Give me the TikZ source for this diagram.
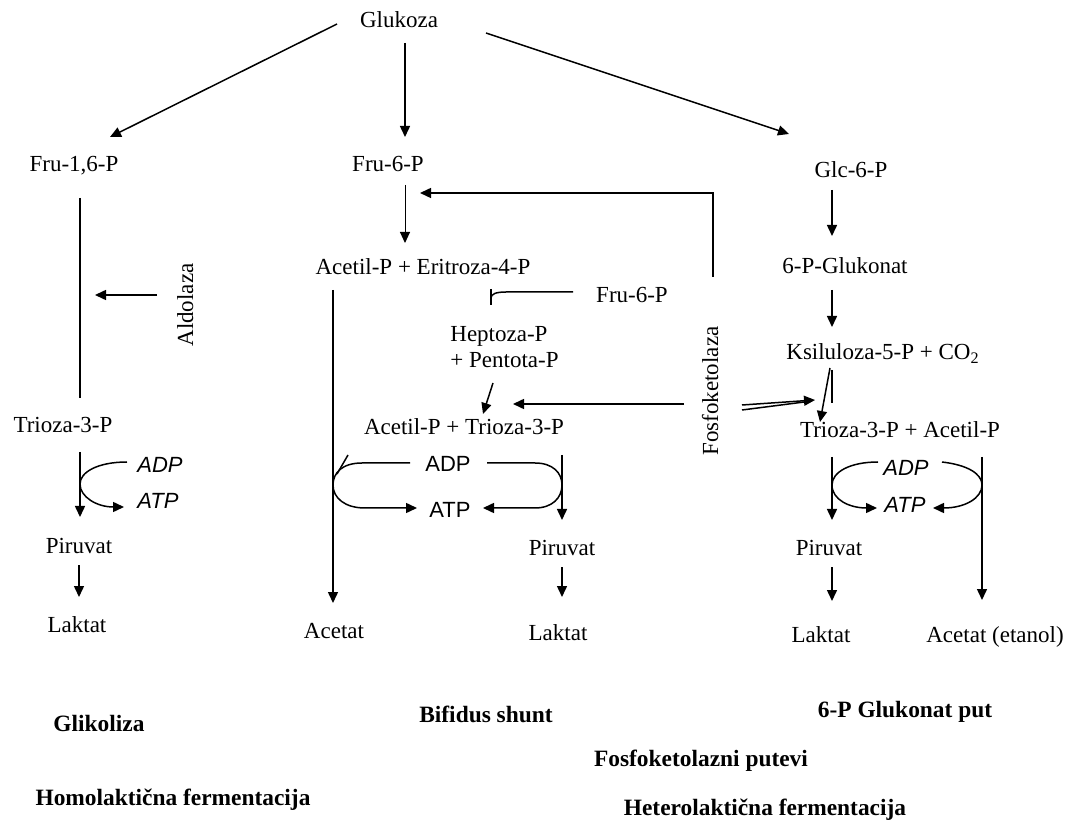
\documentclass[tikz,border=0pt]{standalone}
\usepackage{fontspec}
\setmainfont{Liberation Serif}
\newfontfamily\sansarial{Liberation Sans}
\usetikzlibrary{arrows.meta}
\begin{document}
\begin{tikzpicture}[x=0.5pt,y=-0.5pt,
  lbl/.style={inner sep=0pt,anchor=base,font=\fontsize{11.5}{13}\selectfont},
  ttl/.style={inner sep=0pt,anchor=base,font=\fontsize{11.7}{13}\selectfont\bfseries},
  enz/.style={inner sep=0pt,anchor=base,rotate=90,font=\fontsize{11.5}{13}\selectfont},
  nrg/.style={inner sep=0pt,anchor=base,font=\sansarial\fontsize{11}{13}\selectfont},
  nrgi/.style={inner sep=0pt,anchor=base,font=\sansarial\itshape\fontsize{11}{13}\selectfont},
  ln/.style={line width=0.75pt},
  thin ln/.style={line width=0.5pt},
  ar/.style={ln,-{Triangle[length=5.5pt,width=5pt]}},
]
\useasboundingbox (0,0) rectangle (1071,823);

% ---------- text nodes ----------
\node[lbl] (glu) at (399,28) {Glukoza};
\node[lbl] (f16) at (74,172) {Fru-1,6-P};
\node[lbl] (f6)  at (388,172) {Fru-6-P};
\node[lbl] (g6)  at (851,178) {Glc-6-P};
\node[lbl] (aer) at (423,275) {Acetil-P + Eritroza-4-P};
\node[lbl] (glk) at (845,274) {6-P-Glukonat};
\node[lbl] (f6b) at (632,303) {Fru-6-P};
\node[lbl,anchor=base west] (hep) at (450,342) {Heptoza-P};
\node[lbl,anchor=base west] (pen) at (450,368) {+ Pentota-P};
\node[lbl] (atr) at (464,435) {Acetil-P + Trioza-3-P};
\node[lbl] (ksi) at (883,360) {Ksiluloza-5-P + CO\textsubscript{2}};
\node[lbl] (tar) at (900,438) {Trioza-3-P + Acetil-P};
\node[lbl] (t3l) at (63,433) {Trioza-3-P};
\node[lbl] (pirl) at (79,553) {Piruvat};
\node[lbl] (lakl) at (77,632) {Laktat};
\node[lbl] (acm) at (334,638) {Acetat};
\node[lbl] (pirm) at (562,555) {Piruvat};
\node[lbl] (lakm) at (558,640) {Laktat};
\node[lbl] (pirr) at (829,555) {Piruvat};
\node[lbl] (lakr) at (821,642) {Laktat};
\node[lbl] (acr) at (995,642) {Acetat (etanol)};
\node[enz] (ald) at (193,305) {Aldolaza};
\node[enz] (fk) at (718,391) {Fosfoketolaza};

\node[nrgi] (adpl) at (160,473) {ADP};
\node[nrgi] (atpl) at (158,509) {ATP};
\node[nrg]  (adpm) at (448,472) {ADP};
\node[nrg]  (atpm) at (450,517) {ATP};
\node[nrgi] (adpr) at (906,475) {ADP};
\node[nrgi] (atpr) at (905,513) {ATP};

\node[ttl] (t1) at (99,731) {Glikoliza};
\node[ttl] (t2) at (486,722) {Bifidus shunt};
\node[ttl] (t3) at (905,717) {6-P Glukonat put};
\node[ttl] (t4) at (701,766) {Fosfoketolazni putevi};
\node[ttl] (t5) at (173,805) {Homolaktična fermentacija};
\node[ttl] (t6) at (765,815) {Heterolaktična fermentacija};

% ---------- connector end points ----------
\coordinate (g1) at (337,24);  \coordinate (g1e) at (110,137);
\coordinate (g2) at (405,43);  \coordinate (g2e) at (405,137);
\coordinate (g3) at (486,33);  \coordinate (g3e) at (789,134);
\coordinate (l1) at (80,198);  \coordinate (l1e) at (80,398);
\coordinate (al) at (157,295); \coordinate (ale) at (95,295);
\coordinate (l2) at (80,452);  \coordinate (l2e) at (80,517);
\coordinate (l3) at (79,565);  \coordinate (l3e) at (79,597);
\coordinate (m1) at (405,185); \coordinate (m1e) at (405,243);
\coordinate (bx) at (713,277); \coordinate (bxc) at (713,193); \coordinate (bxe) at (420,193);
\coordinate (m2) at (333,290); \coordinate (m2e) at (333,603);
\coordinate (br) at (573,292);
\coordinate (hp) at (493,383); \coordinate (hpe) at (483,414);
\coordinate (fl) at (684,404); \coordinate (fle) at (513,404);
\coordinate (m3) at (562,455); \coordinate (m3e) at (562,520);
\coordinate (m4) at (562,567); \coordinate (m4e) at (562,597);
\coordinate (r1) at (832,190); \coordinate (r1e) at (832,236);
\coordinate (r2) at (832,290); \coordinate (r2e) at (832,327);
\coordinate (r3) at (830,368); \coordinate (r3e) at (820,422);
\coordinate (r4) at (832,370); \coordinate (r4e) at (832,403);
\coordinate (fr) at (742,405); \coordinate (fre) at (815,400);
\coordinate (fr2) at (742,410); \coordinate (fr2e) at (812,401);
\coordinate (r5) at (832,457); \coordinate (r5e) at (832,520);
\coordinate (r6) at (982,457); \coordinate (r6e) at (982,600);
\coordinate (r7) at (832,567); \coordinate (r7e) at (832,601);

% ---------- connectors ----------
% from Glukoza
\draw[ar] (g1) -- (g1e);
\draw[ar] (g2) -- (g2e);
\draw[ar] (g3) -- (g3e);

% Glikoliza column
\draw[ln] (l1) -- (l1e);
\draw[ar] (al) -- (ale);
\draw[ar] (l2) -- (l2e);
\draw[ar] (127,462) .. controls (98,462) and (80,472) .. (80,484)
                  .. controls (80,497) and (97,507) .. (124,507);
\draw[ar] (l3) -- (l3e);

% Bifidus shunt
\draw[ar,line width=0.5pt] (m1) -- (m1e);
\draw[ar] (bx) -- (bxc) -- (bxe);
\draw[ar] (m2) -- (m2e);
\draw[ln] (br) -- (506,292) .. controls (496,292) and (491,294) .. (491,298);
\draw[ln] (491,289) -- (491,305);
\draw[ar] (hp) -- (hpe);
\draw[ar] (fl) -- (fle);
\draw[ar] (410,463) -- (362,463) .. controls (342,463) and (333,473) .. (333,485)
                   .. controls (333,498) and (345,508) .. (365,508) -- (417,508);
\draw[ln] (348,455) -- (337,474);
\draw[ar] (487,463) -- (535,463) .. controls (553,463) and (562,473) .. (562,485)
                   .. controls (562,498) and (552,508) .. (535,508) -- (483,508);
\draw[ar] (m3) -- (m3e);
\draw[ar] (m4) -- (m4e);

% 6-P Glukonat put
\draw[ar] (r1) -- (r1e);
\draw[ar] (r2) -- (r2e);
\draw[ar] (r3) -- (r3e);
\draw[ln] (r4) -- (r4e);
\draw[ar] (fr) -- (fre);
\draw[ln] (fr2) -- (fr2e);
\draw[ar] (r5) -- (r5e);
\draw[ar] (r6) -- (r6e);
\draw[ar] (878,462) .. controls (850,462) and (832,472) .. (832,485)
                   .. controls (832,500) and (850,508) .. (877,508);
\draw[ar] (942,462) .. controls (968,465) and (982,474) .. (982,485)
                   .. controls (982,498) and (965,508) .. (933,508);
\draw[ar] (r7) -- (r7e);
\end{tikzpicture}
\end{document}
